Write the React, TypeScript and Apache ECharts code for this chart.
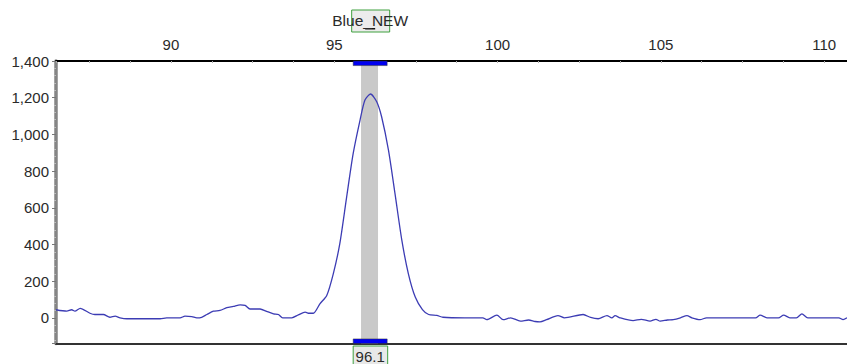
import React, { useEffect, useRef } from "react";
import * as echarts from "echarts";

// fragment size (bp) and signal (RFU)
const sizes: number[] = [
  86.48, 86.81, 86.96, 87.06, 87.22, 87.52, 87.67, 87.93, 88.13, 88.29, 88.44, 88.65, 89.15, 89.67, 89.87,
  90.28, 90.43, 90.64, 90.79, 90.94, 91.1, 91.3, 91.5, 91.71, 91.91, 92.12, 92.27, 92.42, 92.73, 92.93,
  93.14, 93.29, 93.42, 93.7, 93.9, 94.11, 94.21, 94.36, 94.56, 94.77, 94.97, 95.17, 95.38, 95.58, 95.79,
  95.94, 96.11, 96.3, 96.45, 96.66, 96.86, 97.07, 97.27, 97.48, 97.7, 97.89, 98.14, 98.33, 99.0, 99.55,
  99.67, 99.98, 100.17, 100.4, 100.7, 100.95, 101.15, 101.3, 101.5, 101.85, 102.05, 102.62, 102.85, 103.08,
  103.35, 103.5, 103.6, 103.75, 104.15, 104.4, 104.67, 104.85, 104.98, 105.2, 105.38, 105.6, 105.8, 105.95,
  106.2, 106.4, 107.9, 108.04, 108.25, 108.6, 108.76, 108.95, 109.15, 109.32, 109.5, 110.45, 110.58, 110.7,
];
const rfu: number[] = [
  44, 36, 44, 36, 52, 25, 18, 18, 3, 9, 0, -5, -5, -5, 0,
  0, 9, 7, 0, 3, 18, 36, 40, 55, 62, 71, 68, 48, 48, 35,
  22, 18, 0, 0, 16, 31, 25, 25, 76, 122, 240, 404, 659, 896, 1078,
  1187, 1220, 1178, 1096, 914, 677, 422, 240, 113, 45, 18, 13, 3, 0, 0,
  -10, 15, -10, 0, -18, -12, -20, -22, -10, 12, 0, 18, 2, -5,
  12, 0, 12, 0, -15, -8, -18, -8, -18, -12, -10, 0, 12, 0,
  -10, 0, 0, 15, 0, 0, 15, 0, 0, 22, 0, 0, -10, 0,
];

const xLabelStep = 5;
const yLabelStep = 200;

const peakName = "Blue_NEW";
const peakSize = 96.1;
const peakSizeLabel = "96.1";
const binRange: number[] = [95.58, 96.62];
const bandRange: number[] = [95.82, 96.34];
const xRange: number[] = [86.48, 110.7];
const yRange: number[] = [-140, 1400];
const binBarDepth = 25;

const FONT = "'Liberation Sans', Arial, sans-serif";

const isStep = (v: number, step: number) => Math.abs(v / step - Math.round(v / step)) < 1e-6;

export default function App() {
  const ref = useRef<HTMLDivElement>(null);

  useEffect(() => {
    if (!ref.current) return;
    const chart = echarts.init(ref.current, undefined, { renderer: "svg" });
    const data = sizes.map((s, i) => [s, rfu[i]]);

    chart.setOption({
      animation: false,
      grid: { left: 56, top: 61, right: 0, bottom: 20.5, containLabel: false },
      xAxis: [
        {
          type: "value",
          position: "top",
          min: xRange[0],
          max: xRange[1],
          splitNumber: 5,
          axisLine: { show: true, onZero: false, lineStyle: { color: "#000", width: 2 } },
          axisTick: { show: true, inside: true, length: 2, lineStyle: { color: "#aaa", width: 1 } },
          minorTick: { show: true, splitNumber: 4, length: 2, lineStyle: { color: "#aaa", width: 1 } },
          axisLabel: {
            show: true,
            showMinLabel: false,
            showMaxLabel: false,
            margin: 9,
            color: "#2a2a2a",
            fontSize: 15,
            fontFamily: FONT,
            formatter: (v: number) => (isStep(v, xLabelStep) ? String(Math.round(v)) : ""),
          },
          splitLine: { show: false },
        },
        {
          type: "value",
          position: "bottom",
          min: xRange[0],
          max: xRange[1],
          axisLine: { show: true, onZero: false, lineStyle: { color: "#333", width: 2 } },
          axisTick: { show: false },
          axisLabel: { show: false },
          splitLine: { show: false },
        },
      ],
      yAxis: [
        {
          type: "value",
          min: yRange[0],
          max: yRange[1],
          splitNumber: 8,
          axisLine: { show: true, onZero: false, lineStyle: { color: "#858585", width: 3.5 } },
          axisTick: { show: true, length: 4, lineStyle: { color: "#777", width: 1 } },
          minorTick: { show: true, splitNumber: 5, length: 2, lineStyle: { color: "#bbb", width: 1 } },
          axisLabel: {
            show: true,
            showMinLabel: false,
            margin: 7,
            color: "#2a2a2a",
            fontSize: 15,
            fontFamily: FONT,
            formatter: (v: number) => (isStep(v, yLabelStep) ? v.toLocaleString("en-US") : ""),
          },
          splitLine: { show: false },
        },
      ],
      series: [
        {
          type: "line",
          xAxisIndex: 0,
          yAxisIndex: 0,
          data,
          showSymbol: false,
          smooth: 0.25,
          clip: true,
          lineStyle: { width: 1.3, color: "#3c3cb4" },
          z: 3,
          markArea: {
            silent: true,
            z: 1,
            data: [
              [
                { xAxis: bandRange[0], yAxis: yRange[0], itemStyle: { color: "#c9c9c9" } },
                { xAxis: bandRange[1], yAxis: yRange[1] },
              ],
              [
                {
                  xAxis: binRange[0],
                  yAxis: yRange[1] - binBarDepth,
                  itemStyle: { color: "#0000f0", borderColor: "#333", borderWidth: 0.5 },
                },
                { xAxis: binRange[1], yAxis: yRange[1] },
              ],
              [
                {
                  xAxis: binRange[0],
                  yAxis: yRange[0],
                  itemStyle: { color: "#0000f0", borderColor: "#333", borderWidth: 0.5 },
                },
                { xAxis: binRange[1], yAxis: yRange[0] + binBarDepth },
              ],
            ],
          },
        },
      ],
    });

    const [cx, topY] = chart.convertToPixel({ gridIndex: 0 }, [peakSize, yRange[1]]) as number[];
    const [, botY] = chart.convertToPixel({ gridIndex: 0 }, [peakSize, yRange[0]]) as number[];

    chart.setOption({
      graphic: [
        {
          type: "rect",
          shape: { x: cx - 18.5, y: topY - 51, width: 38, height: 22 },
          style: { fill: "#ececec", stroke: "#3fa03f", lineWidth: 1 },
          z: 10,
        },
        {
          type: "rect",
          shape: { x: cx - 5, y: topY - 33, width: 10, height: 1.5 },
          style: { fill: "#111" },
          z: 11,
        },
        {
          type: "text",
          x: cx,
          y: topY - 41,
          style: {
            text: peakName,
            fontSize: 15.5,
            fontFamily: FONT,
            fill: "#2a2a2a",
            align: "center",
            verticalAlign: "middle",
          },
          z: 12,
        },
        {
          type: "rect",
          shape: { x: cx - 17, y: botY + 2.5, width: 34.5, height: 26 },
          style: { fill: "#e8e8e8", stroke: "#3fa03f", lineWidth: 1 },
          z: 10,
        },
        {
          type: "text",
          x: cx,
          y: botY + 12.5,
          style: {
            text: peakSizeLabel,
            fontSize: 15,
            fontFamily: FONT,
            fill: "#2a2a2a",
            align: "center",
            verticalAlign: "middle",
          },
          z: 12,
        },
      ],
    });

    return () => chart.dispose();
  }, []);

  return (
    <div
      ref={ref}
      style={{ position: "fixed", left: 0, top: 0, width: 847, height: 364, background: "#fff" }}
    />
  );
}
